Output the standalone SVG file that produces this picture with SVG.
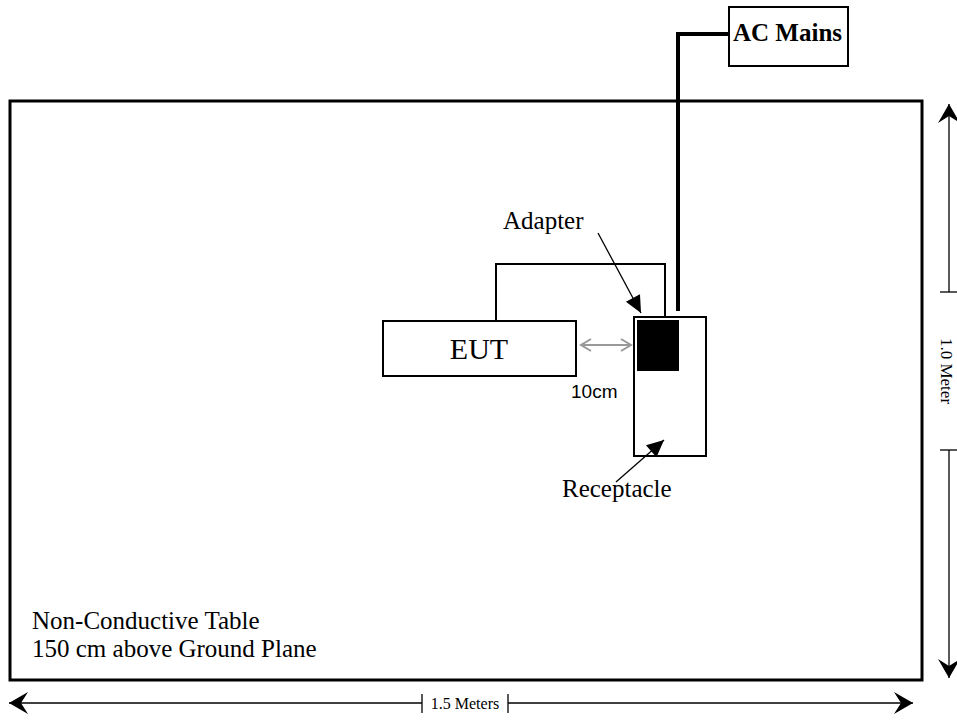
<svg xmlns="http://www.w3.org/2000/svg" width="957" height="726" viewBox="0 0 957 726">
<defs>
<style>
.t{font-family:"Liberation Serif","Times New Roman",serif;fill:#000}
.s{font-family:"Liberation Sans",Arial,sans-serif;fill:#000}
.box{fill:#fff;stroke:#000;stroke-width:2}
.ln{fill:none;stroke:#000;stroke-width:2}
.dim{fill:none;stroke:#000;stroke-width:1.3}
</style>
<marker id="barb" markerUnits="userSpaceOnUse" viewBox="-20 -12 22 24" refX="0" refY="0" markerWidth="22" markerHeight="24" orient="auto">
<path d="M0,0 L-19,-11 L-12,0 L-19,11 Z" fill="#000"/>
</marker>
<marker id="tri" markerUnits="userSpaceOnUse" viewBox="-18 -9 20 18" refX="0" refY="0" markerWidth="20" markerHeight="18" orient="auto">
<path d="M0,0 L-17,-8 L-17,8 Z" fill="#000"/>
</marker>
<marker id="gray" markerUnits="userSpaceOnUse" viewBox="-12 -8 14 16" refX="0" refY="0" markerWidth="14" markerHeight="16" orient="auto-start-reverse">
<path d="M-10,-6 L0,0 L-10,6" fill="none" stroke="#999" stroke-width="2"/>
</marker>
</defs>
<g id="table">
<rect x="10" y="101" width="912" height="579" fill="#fff" stroke="#000" stroke-width="3"/>
<text class="t" x="32" y="629" font-size="25">Non-Conductive Table</text>
<text class="t" x="32" y="657" font-size="25">150 cm above Ground Plane</text>
</g>
<g id="ac-mains">
<rect class="box" x="729" y="7" width="119" height="59"/>
<text class="t" x="733" y="41" font-size="25" font-weight="bold">AC Mains</text>
</g>
<g id="eut">
<rect class="box" x="383" y="321" width="193" height="55"/>
<text class="t" x="479" y="359" font-size="30" text-anchor="middle">EUT</text>
</g>
<g id="receptacle">
<rect class="box" x="634" y="317" width="72" height="139"/>
<text class="t" x="562" y="497" font-size="25">Receptacle</text>
</g>
<g id="adapter">
<rect x="637" y="320" width="42" height="51" fill="#000"/>
<text class="t" x="503" y="229" font-size="25">Adapter</text>
</g>
<g id="label-10cm">
<text class="s" x="571" y="398" font-size="19">10cm</text>
</g>
<g id="connectors">
<path d="M730,34 H678 V311" fill="none" stroke="#000" stroke-width="4"/>
<path class="ln" d="M496,321 V264 H665 V316"/>
<line x1="598" y1="233" x2="641" y2="313" stroke="#000" stroke-width="1.3" marker-end="url(#tri)"/>
<line x1="616" y1="482" x2="664" y2="440" stroke="#000" stroke-width="1.3" marker-end="url(#tri)"/>
<line x1="581" y1="345" x2="631" y2="345" stroke="#999" stroke-width="2" marker-start="url(#gray)" marker-end="url(#gray)"/>
</g>
<g id="dim-height">
<line class="dim" x1="949" y1="292" x2="949" y2="104" marker-end="url(#barb)"/>
<line class="dim" x1="940" y1="292" x2="957" y2="292"/>
<text class="t" x="371" y="-941" font-size="17" text-anchor="middle" transform="rotate(90)">1.0 Meter</text>
<line class="dim" x1="940" y1="450" x2="957" y2="450"/>
<line class="dim" x1="949" y1="450" x2="949" y2="678" marker-end="url(#barb)"/>
</g>
<g id="dim-width">
<line class="dim" x1="422" y1="703" x2="9" y2="703" marker-end="url(#barb)"/>
<line class="dim" x1="422" y1="694" x2="422" y2="713"/>
<text class="t" x="465" y="709" font-size="16" text-anchor="middle">1.5 Meters</text>
<line class="dim" x1="508" y1="694" x2="508" y2="713"/>
<line class="dim" x1="508" y1="703" x2="913" y2="703" marker-end="url(#barb)"/>
</g>
</svg>
